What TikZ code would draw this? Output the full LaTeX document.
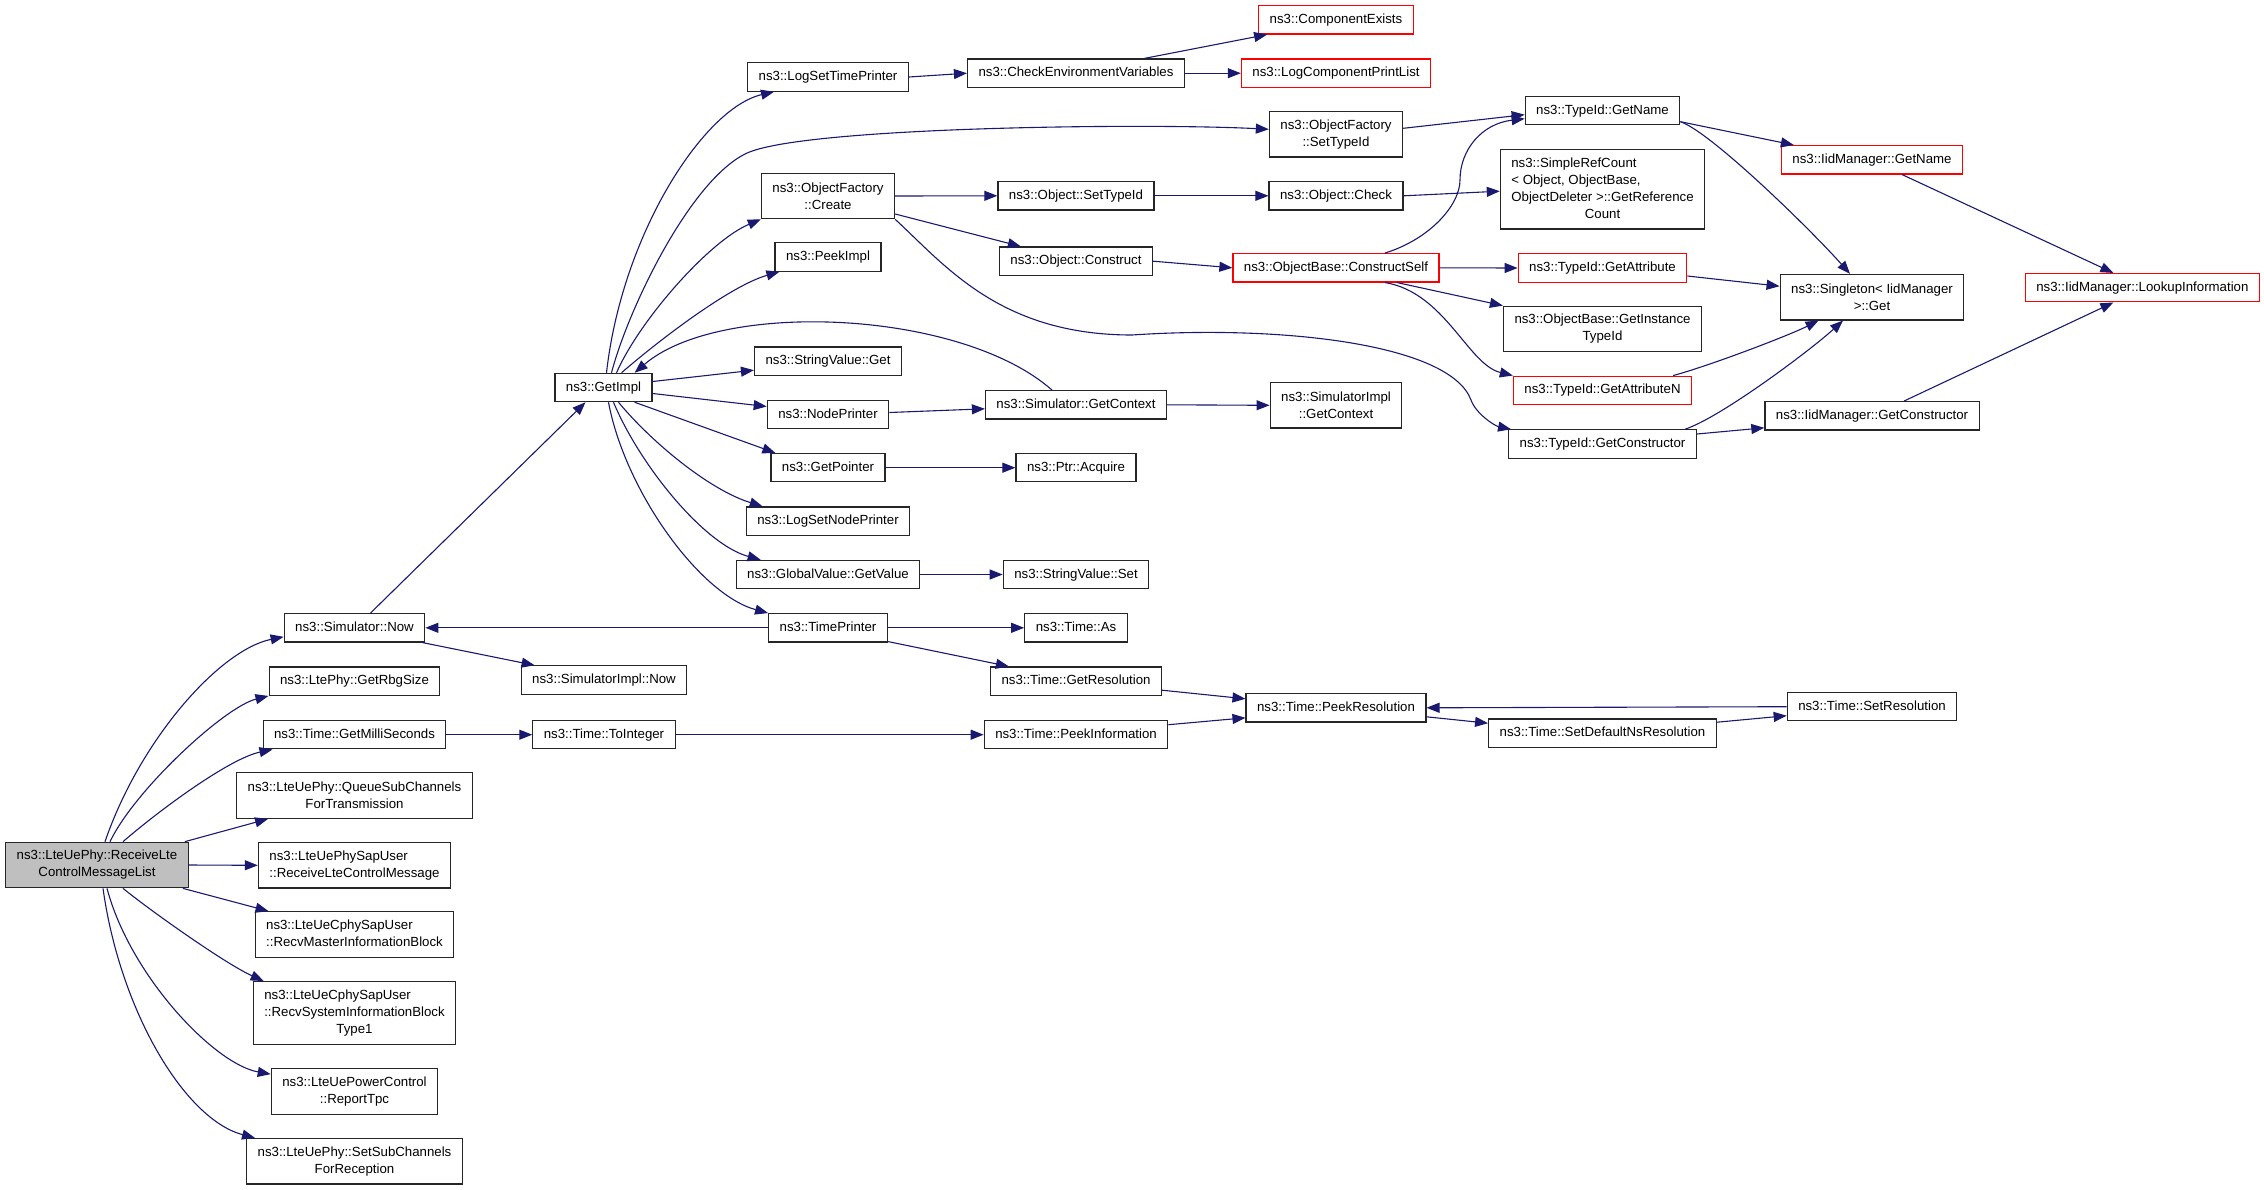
\documentclass[tikz,border=0pt]{standalone}
\usepackage{fontspec}
\setmainfont{Liberation Sans}
\usetikzlibrary{arrows.meta}
\definecolor{callblue}{RGB}{25,25,112}
\newcommand{\dxfont}{\fontsize{13.25}{17}\selectfont}
\newcommand{\midline}[1]{\multicolumn{1}{@{}c@{}}{#1}}
\begin{document}
\begin{tikzpicture}[x=1pt, y=-1pt]
    \tikzset{>={Triangle[length=13pt,width=10pt]}}
    \tikzset{fnbox/.style={draw=black!85, line width=1.2pt, inner xsep=11pt, inner ysep=1pt, font=\dxfont, align=center},
      fnone/.style={fnbox, minimum height=28.3pt, text height=9.8pt, text depth=2.8pt},
      fntwo/.style={fnbox, minimum height=45.5pt},
      fnthree/.style={fnbox, minimum height=62.8pt},
      fnfour/.style={fnbox, minimum height=79.7pt},
      fnred/.style={draw=red},
      callarr/.style={->, draw=callblue, line width=1.1pt}}
    \useasboundingbox (0,0) rectangle (2264,1189);
    \node[fntwo, fill=black!25] (root) at (97,865) {ns3::LteUePhy::ReceiveLte\\ControlMessageList};
    \node[fnone] (now) at (354.5,627.8) {ns3::Simulator::Now};
    \node[fnone] (rbg) at (354.5,681.2) {ns3::LtePhy::GetRbgSize};
    \node[fnone] (milli) at (354.5,734.7) {ns3::Time::GetMilliSeconds};
    \node[fntwo] (queue) at (354.5,795.5) {ns3::LteUePhy::QueueSubChannels\\ForTransmission};
    \node[fntwo, inner xsep=11pt] (sapmsg) at (354.5,865.3) {\begin{tabular}{@{}l@{}}ns3::LteUePhySapUser\\::ReceiveLteControlMessage\end{tabular}};
    \node[fntwo] (mib) at (354.5,934.5) {\begin{tabular}{@{}l@{}}ns3::LteUeCphySapUser\\::RecvMasterInformationBlock\end{tabular}};
    \node[fnthree] (sib) at (354.5,1013) {\begin{tabular}{@{}l@{}}ns3::LteUeCphySapUser\\::RecvSystemInformationBlock\\\midline{Type1}\end{tabular}};
    \node[fntwo] (tpc) at (354.5,1091.5) {ns3::LteUePowerControl\\::ReportTpc};
    \node[fntwo] (setsub) at (354.5,1161.3) {ns3::LteUePhy::SetSubChannels\\ForReception};
    \node[fnone] (getimpl) at (603.5,387.5) {ns3::GetImpl};
    \node[fnone] (implnow) at (604,680) {ns3::SimulatorImpl::Now};
    \node[fnone] (toint) at (604,734.7) {ns3::Time::ToInteger};
    \node[fnone] (logtime) at (828,77) {ns3::LogSetTimePrinter};
    \node[fntwo] (create) at (828,196) {ns3::ObjectFactory\\::Create};
    \node[fnone] (peekimpl) at (828,257) {ns3::PeekImpl};
    \node[fnone] (svget) at (828,361.2) {ns3::StringValue::Get};
    \node[fnone] (nodeprinter) at (828,414.5) {ns3::NodePrinter};
    \node[fnone] (getpointer) at (828,467.7) {ns3::GetPointer};
    \node[fnone] (lognode) at (828,521.2) {ns3::LogSetNodePrinter};
    \node[fnone] (getvalue) at (828,574.5) {ns3::GlobalValue::GetValue};
    \node[fnone] (timeprinter) at (828,627.8) {ns3::TimePrinter};
    \node[fnone] (checkenv) at (1076,73.2) {ns3::CheckEnvironmentVariables};
    \node[fnone] (settypeid) at (1076,195.8) {ns3::Object::SetTypeId};
    \node[fnone] (construct) at (1076,261.2) {ns3::Object::Construct};
    \node[fnone] (getcontext) at (1076,404.8) {ns3::Simulator::GetContext};
    \node[fnone] (acquire) at (1076,467.7) {ns3::Ptr::Acquire};
    \node[fnone] (stringset) at (1076,574.5) {ns3::StringValue::Set};
    \node[fnone] (timeas) at (1076,627.8) {ns3::Time::As};
    \node[fnone] (getres) at (1076,681.2) {ns3::Time::GetResolution};
    \node[fnone] (peekinfo) at (1076,734.7) {ns3::Time::PeekInformation};
    \node[fnone, fnred] (compexists) at (1336,19.8) {ns3::ComponentExists};
    \node[fnone, fnred] (logcomp) at (1336,73.2) {ns3::LogComponentPrintList};
    \node[fntwo] (facttypeid) at (1336,134.3) {ns3::ObjectFactory\\::SetTypeId};
    \node[fnone] (check) at (1336,195.8) {ns3::Object::Check};
    \node[fnone, fnred] (constructself) at (1336,267.8) {ns3::ObjectBase::ConstructSelf};
    \node[fntwo] (implctx) at (1336,405.3) {ns3::SimulatorImpl\\::GetContext};
    \node[fnone] (peekres) at (1336,707.8) {ns3::Time::PeekResolution};
    \node[fnone] (getname) at (1602.5,110.7) {ns3::TypeId::GetName};
    \node[fnfour] (refcount) at (1602.5,189.2) {\begin{tabular}{@{}l@{}}ns3::SimpleRefCount\\< Object, ObjectBase,\\\midline{ObjectDeleter >::GetReference}\\\midline{Count}\end{tabular}};
    \node[fnone, fnred] (getattr) at (1602.5,268) {ns3::TypeId::GetAttribute};
    \node[fntwo] (instance) at (1602.5,329) {ns3::ObjectBase::GetInstance\\TypeId};
    \node[fnone, fnred] (getattrn) at (1602.5,390.3) {ns3::TypeId::GetAttributeN};
    \node[fnone] (getctor) at (1602.5,444) {ns3::TypeId::GetConstructor};
    \node[fnone] (setdefault) at (1602.5,733.2) {ns3::Time::SetDefaultNsResolution};
    \node[fnone, fnred] (iidname) at (1872,159.8) {ns3::IidManager::GetName};
    \node[fntwo] (singleton) at (1872,297.2) {ns3::Singleton< IidManager\\>::Get};
    \node[fnone] (iidctor) at (1872,415.8) {ns3::IidManager::GetConstructor};
    \node[fnone] (setres) at (1872,706.7) {ns3::Time::SetResolution};
    \node[fnone, fnred] (lookup) at (2142.4,287.7) {ns3::IidManager::LookupInformation};
    \draw[callarr] ([xshift=8pt]root.north) .. controls +(35,-102) and +(-64,13) .. ([yshift=-9pt]now.west);
    \draw[callarr] ([xshift=13pt]root.north) .. controls +(25,-52) and +(-44,11) .. (rbg.south west);
    \draw[callarr] ([xshift=26pt]root.north) .. controls +(37,-32) and +(-43,9) .. ([xshift=10pt]milli.south west);
    \draw[callarr] ([xshift=-4pt]root.north east) -- ([xshift=32pt]queue.south west);
    \draw[callarr] (root.east) -- (sapmsg.west);
    \draw[callarr] ([xshift=-6pt]root.south east) -- ([xshift=14pt]mib.north west);
    \draw[callarr] ([xshift=26pt]root.south) .. controls +(27,22) and +(-38,-17) .. ([xshift=11pt]sib.north west);
    \draw[callarr] ([xshift=10pt]root.south) .. controls +(23,87) and +(-56.5,-10) .. ([yshift=-6pt]tpc.north west);
    \draw[callarr] ([xshift=6pt]root.south) .. controls +(17,122) and +(-70.6,-18.7) .. ([xshift=9pt]setsub.north west);
    \draw[callarr] ([xshift=16pt]now.north) -- ([xshift=-18pt]getimpl.south);
    \draw[callarr] ([xshift=-3pt]now.south east) -- ([xshift=14pt]implnow.north west);
    \draw[callarr] (timeprinter.west) -- (now.east);
    \draw[callarr] (milli.east) -- (toint.west);
    \draw[callarr] (toint.east) -- (peekinfo.west);
    \draw[callarr] ([xshift=3pt]getimpl.north) .. controls +(15.5,-138.3) and +(-70.4,16.3) .. ([xshift=27pt]logtime.south west);
    \draw[callarr] ([xshift=8pt]getimpl.north) .. controls +(16.5,-63.3) and +(-56.5,26.7) .. (746.5,153.3) .. controls +(56.5,-26.7) and +(-119,-6.3) .. ([yshift=5pt]facttypeid.west);
    \draw[callarr] ([xshift=13pt]getimpl.north) .. controls +(23.5,-53.3) and +(-51,21.3) .. (create.south west);
    \draw[callarr] ([xshift=18pt]getimpl.north) .. controls +(38.5,-33.3) and +(-49,14) .. ([xshift=5pt]peekimpl.south west);
    \draw[callarr] ([xshift=-24pt]getcontext.north) .. controls +(-91.6,-80.7) and +(85.4,-73.3) .. ([xshift=-18pt]getimpl.north east);
    \draw[callarr] ([yshift=6pt]getimpl.east) -- ([yshift=-9pt]svget.west);
    \draw[callarr] ([yshift=-6pt]getimpl.east) -- ([yshift=8pt]nodeprinter.west);
    \draw[callarr] ([xshift=-18pt]getimpl.south east) -- ([xshift=5pt]getpointer.north west);
    \draw[callarr] ([xshift=15pt]getimpl.south) .. controls +(31.6,38.3) and +(-54.6,-17) .. ([xshift=17pt]lognode.north west);
    \draw[callarr] ([xshift=10pt]getimpl.south) .. controls +(26.5,63.3) and +(-56.4,-15.3) .. ([xshift=25pt]getvalue.north west);
    \draw[callarr] ([xshift=5pt]getimpl.south) .. controls +(16.5,88.3) and +(-68.5,-18.7) .. (timeprinter.north west);
    \draw[callarr] (logtime.east) -- (checkenv.west);
    \draw[callarr] ([xshift=-41pt]checkenv.north east) -- ([xshift=9pt]compexists.south west);
    \draw[callarr] (checkenv.east) -- (logcomp.west);
    \draw[callarr] (create.east) -- (settypeid.west);
    \draw[callarr] ([yshift=-18pt]create.east) -- ([xshift=22pt]construct.north west);
    \draw[callarr] (create.south east) .. controls +(50,46) and +(-132,0) .. (1132,335) .. controls +(148,-10) and +(-21,-56.4) .. (1471,400) .. controls +(5,14) and +(-16,-3.3) .. ([xshift=3pt]getctor.north west);
    \draw[callarr] (settypeid.east) -- (check.west);
    \draw[callarr] (check.east) -- ([yshift=-2pt]refcount.west);
    \draw[callarr] (construct.east) -- (constructself.west);
    \draw[callarr] ([yshift=6pt]facttypeid.east) -- ([yshift=-4pt]getname.west);
    \draw[callarr] ([xshift=49pt]constructself.north) .. controls +(45,-14) and +(0,25) .. (1460,180) .. controls +(0,-30) and +(-43,5) .. ([yshift=-8pt]getname.west);
    \draw[callarr] (constructself.east) -- (getattr.west);
    \draw[callarr] ([xshift=61pt]constructself.south) -- (instance.north west);
    \draw[callarr] ([xshift=49pt]constructself.south) .. controls +(60,10) and +(-45,-11) .. (getattrn.north west);
    \draw[callarr] ([yshift=-11pt]getname.east) -- ([xshift=13pt]iidname.north west);
    \draw[callarr] ([yshift=-11pt]getname.east) .. controls +(30,10) and +(-40,-45) .. ([xshift=-22pt]singleton.north);
    \draw[callarr] ([yshift=-8pt]getattr.east) -- ([yshift=11pt]singleton.west);
    \draw[callarr] ([xshift=-19pt]getattrn.north east) .. controls +(37,-10) and +(-30,15) .. ([xshift=39pt]singleton.south west);
    \draw[callarr] ([xshift=-12pt]getctor.north east) .. controls +(36,-12) and +(-33,30) .. ([xshift=-29pt]singleton.south);
    \draw[callarr] ([yshift=10pt]getctor.east) -- ([yshift=-12pt]iidctor.west);
    \draw[callarr] ([xshift=30pt]iidname.south) -- ([xshift=-29pt]lookup.north);
    \draw[callarr] ([xshift=32pt]iidctor.north) -- ([xshift=-29pt]lookup.south);
    \draw[callarr] ([yshift=2pt]nodeprinter.east) -- ([yshift=-4pt]getcontext.west);
    \draw[callarr] (getcontext.east) -- (implctx.west);
    \draw[callarr] (getpointer.east) -- (acquire.west);
    \draw[callarr] (getvalue.east) -- (stringset.west);
    \draw[callarr] (timeprinter.east) -- (timeas.west);
    \draw[callarr] ([yshift=1pt]timeprinter.south east) -- ([xshift=19pt]getres.north west);
    \draw[callarr] ([yshift=-9pt]getres.east) -- ([yshift=9pt]peekres.west);
    \draw[callarr] ([yshift=10pt]peekinfo.east) -- ([yshift=-10pt]peekres.west);
    \draw[callarr] ([yshift=-9pt]peekres.east) -- ([yshift=10pt]setdefault.west);
    \draw[callarr] ([yshift=11pt]setdefault.east) -- ([yshift=-9pt]setres.west);
    \draw[callarr] (setres.west) -- (peekres.east);
\end{tikzpicture}
\end{document}
